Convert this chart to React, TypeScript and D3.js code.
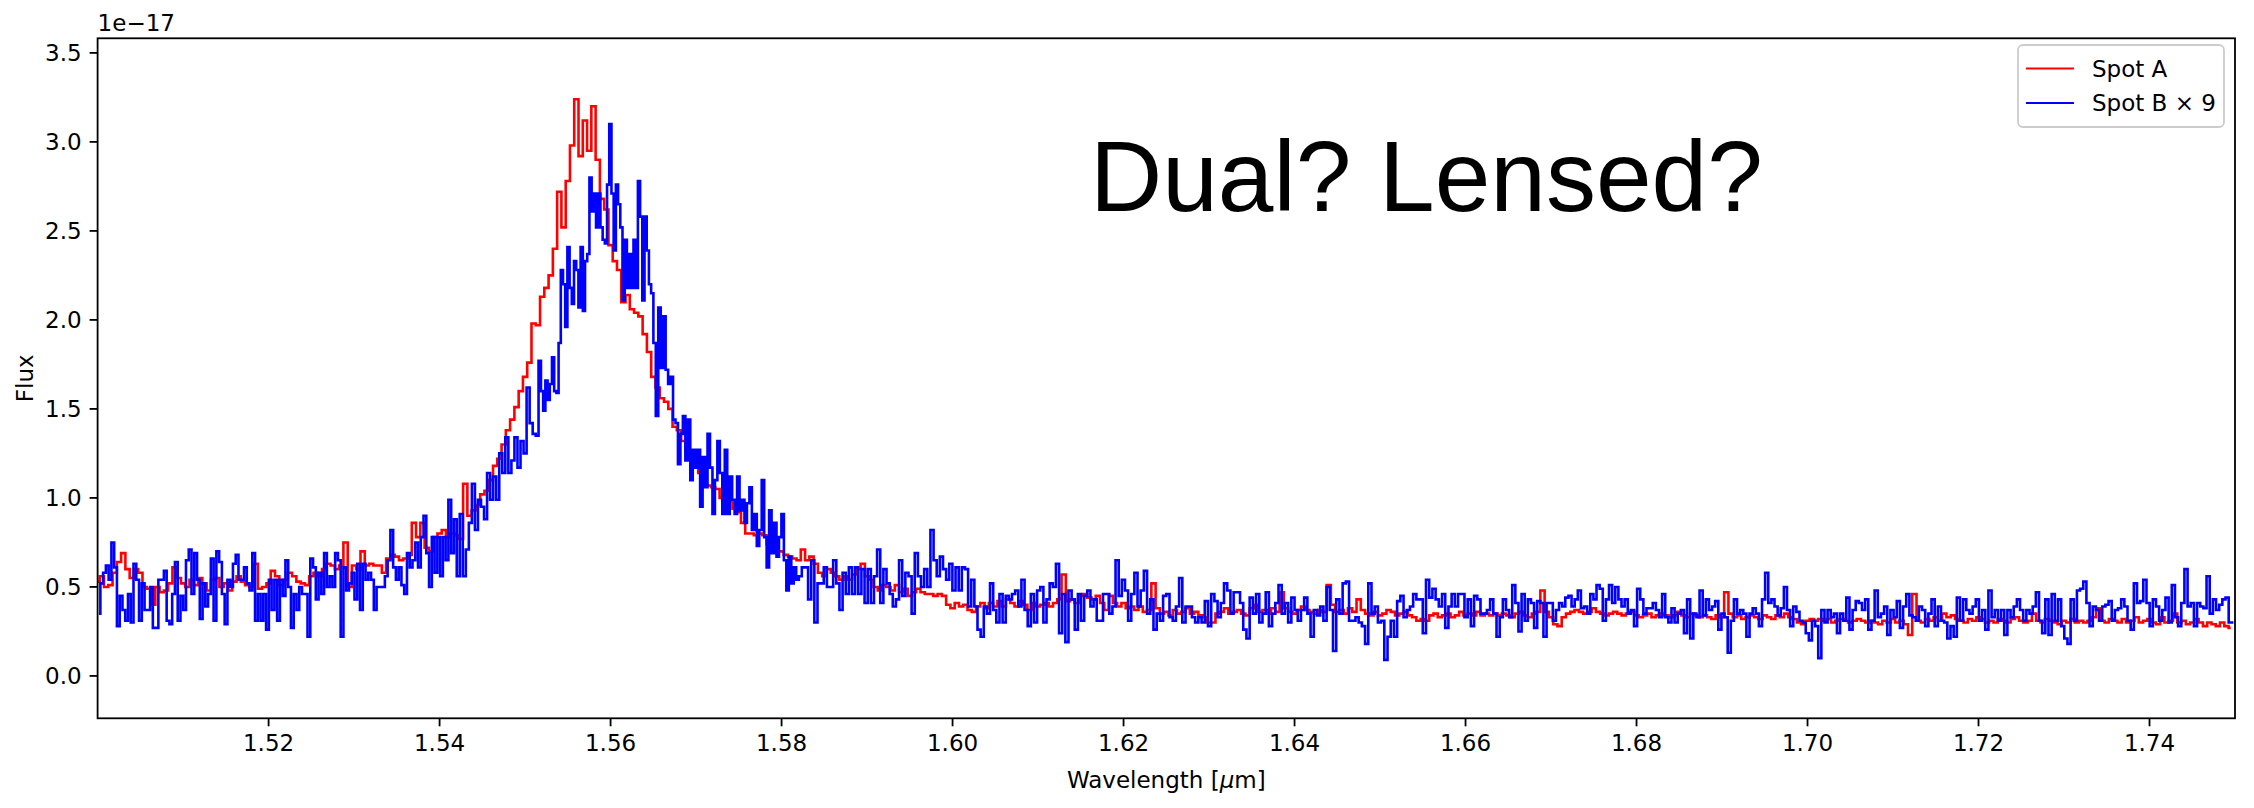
import React from 'react';
import * as d3 from 'd3';

// ---------- data ----------
const xTickValues = [1.52, 1.54, 1.56, 1.58, 1.6, 1.62, 1.64, 1.66, 1.68, 1.7, 1.72, 1.74];
const xTickLabels = ['1.52', '1.54', '1.56', '1.58', '1.60', '1.62', '1.64', '1.66', '1.68', '1.70', '1.72', '1.74'];
const yTickValues = [0, 0.5, 1, 1.5, 2, 2.5, 3, 3.5];
const yTickLabels = ['0.0', '0.5', '1.0', '1.5', '2.0', '2.5', '3.0', '3.5'];
const xDomain = [1.5, 1.75];
const yDomain = [-0.238, 3.582];

// Spot A: flux (1e-17) sampled every 0.0005 µm from 1.5000
const spotAStart = 1.5;
const spotAStep = 0.0005;
const spotA = [
  0.53,0.56,0.50,0.51,0.58,0.64,0.69,0.60,0.55,0.60,
  0.58,0.50,0.49,0.40,0.50,0.47,0.48,0.52,0.61,0.55,
  0.52,0.50,0.54,0.51,0.55,0.52,0.48,0.54,0.55,0.50,
  0.52,0.48,0.53,0.56,0.53,0.51,0.50,0.63,0.49,0.50,
  0.52,0.59,0.56,0.51,0.54,0.58,0.56,0.53,0.52,0.51,
  0.56,0.58,0.56,0.60,0.63,0.62,0.60,0.62,0.75,0.50,
  0.62,0.60,0.70,0.62,0.63,0.62,0.62,0.58,0.66,0.68,
  0.67,0.65,0.66,0.68,0.86,0.78,0.86,0.72,0.70,0.78,
  0.80,0.82,0.78,0.80,
  0.79,0.77,1.08,0.90,0.93,0.96,1.02,1.04,1.10,1.18,
  1.22,1.30,1.38,1.44,1.51,1.60,1.68,1.76,1.98,1.97,
  2.13,2.18,2.25,2.40,2.72,2.52,2.78,2.98,3.24,2.92,
  3.12,2.95,3.20,2.90,2.68,2.62,2.42,2.33,2.28,2.10,
  2.14,2.06,2.04,2.02,1.92,1.82,1.68,1.62,1.56,1.54,
  1.50,1.40,1.38,1.32,1.26,1.24,1.20,1.14,1.12,1.07,
  1.06,1.05,1.00,0.99,0.98,0.94,0.92,0.86,0.80,0.80,
  0.79,0.80,0.79,0.74,0.72,0.70,0.70,0.68,0.67,0.66,
  0.65,0.71,0.65,0.67,0.63,0.58,0.56,0.60,0.58,0.56,
  0.54,0.56,0.54,0.57,0.60,0.63,0.56,0.54,0.50,0.48,
  0.51,0.50,0.48,0.51,0.47,0.49,0.45,0.47,0.49,0.47,
  0.46,0.46,0.45,0.46,0.45,0.40,0.38,0.41,0.39,0.40,
  0.37,0.36,0.39,0.41,0.38,0.41,0.39,0.42,0.39,0.43,
  0.41,0.39,0.42,0.40,0.37,0.41,0.39,0.40,0.41,0.39,
  0.41,0.43,0.57,0.42,0.43,0.41,0.45,0.46,0.44,0.43,
  0.45,0.41,0.37,0.45,0.41,0.39,0.41,0.38,0.39,0.37,
  0.39,
  0.36,0.37,0.52,0.38,0.35,0.36,0.34,0.37,0.35,0.36,
  0.38,0.35,0.36,0.34,0.33,0.30,0.30,0.35,0.36,0.38,
  0.35,0.36,0.37,0.35,0.34,0.38,0.40,0.36,0.37,0.35,
  0.38,0.36,0.47,0.38,0.36,0.35,0.37,0.39,0.37,0.36,
  0.35,0.37,0.36,0.51,0.40,0.36,0.37,0.35,0.38,0.36,
  0.43,0.37,0.35,0.34,0.36,0.34,0.35,0.37,0.36,0.34,
  0.35,0.36,0.34,0.33,0.31,0.32,0.31,0.34,0.35,0.33,
  0.34,0.35,0.33,0.34,0.36,0.34,0.35,0.34,0.36,0.34,
  0.35,0.34,0.35,0.34,
  0.35,0.34,0.33,0.35,0.36,0.34,0.33,0.35,0.36,0.48,
  0.36,0.33,0.29,0.28,0.33,0.35,0.36,0.37,0.36,0.35,
  0.36,0.38,0.36,0.35,0.34,0.35,0.36,0.35,0.34,0.35,
  0.36,0.34,0.33,0.34,0.35,0.33,0.34,0.35,0.34,0.33,
  0.34,0.36,0.34,0.33,0.35,0.34,0.33,0.34,0.33,0.32,
  0.34,0.33,0.47,0.35,0.33,0.34,0.32,0.33,0.34,0.33,
  0.32,0.34,0.33,0.32,0.34,0.33,0.35,0.33,0.32,0.30,
  0.29,0.31,0.32,0.31,0.32,0.31,0.32,0.30,0.31,0.32,
  0.31,0.30,0.31,0.32,
  0.31,0.30,0.31,0.30,0.29,0.31,0.30,0.32,0.30,0.31,
  0.29,0.23,0.46,0.31,0.30,0.32,0.31,0.33,0.31,0.35,
  0.33,0.34,0.32,0.31,0.30,0.32,0.31,0.33,0.32,0.30,
  0.31,0.30,0.32,0.31,0.30,0.32,0.33,0.31,0.30,0.31,
  0.35,0.31,0.30,0.32,0.31,0.30,0.29,0.31,0.30,0.32,
  0.30,0.31,0.30,0.31,0.33,0.38,0.31,0.30,0.32,0.31,
  0.30,0.32,0.30,0.31,0.33,0.30,0.31,0.32,0.30,0.29,
  0.33,0.30,0.31,0.35,0.30,0.31,0.29,0.30,0.32,0.30,
  0.28,0.30,0.29,0.28,0.30,0.28,0.27,
];

// Spot B x 9: values read piecewise; each piece spans [edge_i, edge_i+1]
const spotBEdges = [1.5, 1.542, 1.5516, 1.565, 1.582, 1.622, 1.664, 1.706, 1.75];
const spotB1 = [
  0.35,0.52,0.58,0.62,0.54,0.75,0.61,0.28,0.45,0.37,
  0.31,0.46,0.30,0.63,0.54,0.31,0.52,0.37,0.37,0.50,
  0.27,0.27,0.54,0.54,0.59,0.31,0.29,0.46,0.64,0.31,
  0.45,0.37,0.65,0.71,0.46,0.69,0.54,0.32,0.52,0.39,
  0.46,0.66,0.31,0.70,0.64,0.46,0.29,0.54,0.50,0.63,
  0.68,0.54,0.54,0.61,0.52,0.48,0.69,0.31,0.46,0.31,
  0.46,0.26,0.54,0.37,0.54,0.31,0.54,0.45,0.65,0.50,
  0.27,0.46,0.37,0.50,0.46,0.46,0.22,0.66,0.61,0.43,
  0.58,0.46,0.69,0.50,0.56,0.50,0.69,0.65,0.22,0.61,
  0.48,0.52,0.58,0.43,0.63,0.37,0.63,0.54,0.58,0.54,
  0.37,0.50,0.50,0.50,0.56,0.65,0.82,0.61,0.54,0.61,
  0.51,0.46,0.69,0.61,0.65,0.75,0.61,0.78,0.90,0.69,
  0.50,0.78,0.58,0.78,0.56,0.78,0.65,0.99,0.69,0.88,
];
const spotB2 = [
  0.56,0.91,0.56,0.71,0.86,1.08,0.82,0.99,0.95,0.88,
  1.14,0.99,1.12,0.99,1.25,1.14,1.34,1.14,1.21,1.34,
  1.17,1.32,1.25,1.62,1.42,1.36,1.35,
];
const spotB3 = [
  1.77,1.60,1.49,1.66,1.55,1.64,1.79,1.60,1.59,1.87,
  2.28,2.20,1.96,2.41,2.18,2.09,2.33,2.28,2.07,2.41,
  2.05,2.33,2.37,2.80,2.61,2.71,2.52,2.71,2.52,2.45,
  2.43,2.76,3.10,2.71,2.39,2.76,2.65,2.52,2.11,2.45,
  2.18,2.37,2.18,2.45,2.18,2.78,2.58,2.11,2.58,2.39,
  2.20,2.15,
];
const spotB4 = [
  1.87,1.46,2.07,1.73,2.02,1.72,1.64,1.68,1.44,1.42,
  1.19,1.36,1.46,1.21,1.44,1.10,1.27,1.17,1.27,0.95,
  1.23,1.06,1.36,1.17,0.91,1.10,1.32,1.14,0.91,1.27,
  0.91,1.12,0.99,0.91,1.12,0.93,0.99,0.86,0.97,1.06,
  0.82,0.91,0.73,0.82,1.10,0.78,0.61,0.93,0.69,0.86,
  0.67,0.78,0.91,0.65,0.48,0.67,0.52,0.61,0.54,
];
const spotB5 = [
  0.56,0.61,0.61,0.43,0.65,0.30,0.52,0.52,0.61,0.50,
  0.50,0.65,0.52,0.37,0.58,0.46,0.61,0.46,0.61,0.46,
  0.60,0.41,0.60,0.41,0.56,0.71,0.41,0.60,0.52,0.46,
  0.39,0.43,0.65,0.45,0.58,0.56,0.35,0.69,0.56,0.50,
  0.60,0.50,0.82,0.65,0.56,0.67,0.60,0.54,0.63,0.48,
  0.61,0.48,0.61,0.60,0.39,0.54,0.39,0.26,0.22,0.39,
  0.35,0.52,0.37,0.30,0.46,0.30,0.45,0.43,0.46,0.48,
  0.39,0.54,0.37,0.28,0.46,0.30,0.48,0.50,0.30,0.43,
  0.52,0.50,0.63,0.24,0.46,0.19,0.48,0.43,0.26,0.46,
  0.31,0.45,0.48,0.39,0.43,0.31,0.31,0.46,0.46,0.35,
  0.39,0.65,0.45,0.54,0.48,0.31,0.46,0.58,0.39,
];
const spotB6 = [
  0.48,0.59,0.35,0.43,0.26,0.35,0.31,0.45,0.46,0.33,
  0.31,0.39,0.55,0.30,0.39,0.39,0.33,0.30,0.33,0.30,
  0.42,0.28,0.46,0.42,0.33,0.41,0.52,0.48,0.35,0.47,
  0.47,0.41,0.26,0.21,0.44,0.35,0.46,0.30,0.35,0.47,
  0.28,0.35,0.41,0.51,0.35,0.41,0.30,0.44,0.37,0.31,
  0.37,0.44,0.35,0.22,0.37,0.34,0.39,0.31,0.50,0.37,
  0.14,0.43,0.35,0.52,0.53,0.31,0.31,0.33,0.30,0.28,
  0.18,0.52,0.35,0.39,0.30,0.31,0.09,0.22,0.31,0.22,
  0.42,0.45,0.33,0.37,0.39,0.46,0.43,0.43,0.24,0.54,
  0.44,0.49,0.43,0.39,0.46,0.27,0.39,0.46,0.39,0.46,
  0.46,0.33,0.43,0.28,0.45,0.43,0.35,0.35,0.37,0.43,
  0.35,0.22,
];
const spotB7 = [
  0.33,0.43,0.37,0.33,0.51,0.41,0.25,0.46,0.31,0.43,
  0.41,0.27,0.42,0.41,0.22,0.41,0.41,0.31,0.37,0.41,
  0.39,0.44,0.45,0.39,0.43,0.48,0.38,0.39,0.35,0.46,
  0.43,0.51,0.49,0.31,0.43,0.51,0.41,0.50,0.43,0.39,
  0.43,0.35,0.37,0.28,0.49,0.43,0.35,0.38,0.38,0.41,
  0.37,0.33,0.46,0.33,0.30,0.38,0.30,0.35,0.37,0.24,
  0.43,0.21,0.35,0.33,0.48,0.34,0.43,0.37,0.39,0.42,
  0.26,0.35,0.33,0.13,0.31,0.43,0.35,0.37,0.35,0.22,
  0.35,0.38,0.35,0.28,0.43,0.58,0.41,0.43,0.39,0.34,
  0.38,0.50,0.37,0.28,0.39,0.36,0.31,0.30,0.24,0.20,
  0.31,0.28,0.10,0.37,0.30,0.37,0.33,0.35,0.24,0.35,
  0.31,0.44,0.26,0.37,0.42,
];
const spotB8 = [
  0.41,0.37,0.43,0.26,0.31,0.48,0.33,0.35,0.39,0.23,
  0.37,0.33,0.42,0.27,0.39,0.46,0.34,0.33,0.31,0.39,
  0.37,0.28,0.35,0.43,0.28,0.39,0.31,0.30,0.21,0.28,
  0.22,0.44,0.31,0.43,0.37,0.35,0.39,0.43,0.31,0.37,
  0.26,0.48,0.33,0.37,0.31,0.37,0.23,0.37,0.33,0.39,
  0.43,0.37,0.31,0.37,0.35,0.39,0.47,0.31,0.24,0.43,
  0.23,0.46,0.31,0.43,0.28,0.21,0.18,0.43,0.31,0.48,
  0.49,0.53,0.41,0.28,0.39,0.37,0.31,0.39,0.40,0.42,
  0.31,0.37,0.38,0.43,0.39,0.31,0.26,0.52,0.41,0.42,
  0.54,0.41,0.28,0.43,0.39,0.31,0.37,0.44,0.30,0.51,
  0.33,0.28,0.41,0.60,0.39,0.41,0.28,0.41,0.39,0.38,
  0.56,0.35,0.43,0.37,0.40,0.43,0.44,0.30,0.30,
];
const spotBPieces = [spotB1, spotB2, spotB3, spotB4, spotB5, spotB6, spotB7, spotB8];

const seriesNames = ['Spot A', 'Spot B \u00d7 9'];
const seriesColors = ['#ff0000', '#0000ff'];

// ---------- layout ----------
const W = 2254;
const H = 808;
const PL = 97.6;
const PR = 2235;
const PT = 38.3;
const PB = 718.3;
const FONT = '"DejaVu Sans", Verdana, sans-serif';
const FS = 23;

export default function App() {
  const x = d3.scaleLinear().domain(xDomain).range([PL, PR]);
  const y = d3.scaleLinear().domain(yDomain).range([PB, PT]);

  const spotAPts: [number, number][] = spotA.map((v, i) => [spotAStart + i * spotAStep, v]);
  const spotBPts: [number, number][] = [];
  spotBPieces.forEach((arr, p) => {
    const a = spotBEdges[p];
    const b = spotBEdges[p + 1];
    const w = (b - a) / arr.length;
    arr.forEach((v, k) => spotBPts.push([a + (k + 0.5) * w, v]));
  });

  const line = d3
    .line<[number, number]>()
    .x((d) => x(d[0]))
    .y((d) => y(d[1]))
    .curve(d3.curveStep);

  const tickLen = 8;
  const axisW = 1.8;
  const lineW = 2.6;

  return (
    <svg
      width={W}
      height={H}
      viewBox={`0 0 ${W} ${H}`}
      style={{ position: 'absolute', left: 0, top: 0, background: '#fff' }}
      fontFamily={FONT}
    >
      <rect x={0} y={0} width={W} height={H} fill="#fff" />
      <defs>
        <clipPath id="plotClip">
          <rect x={PL} y={PT} width={PR - PL} height={PB - PT} />
        </clipPath>
      </defs>

      <g clipPath="url(#plotClip)">
        <path d={line(spotAPts) || ''} fill="none" stroke={seriesColors[0]} strokeWidth={lineW} strokeLinejoin="miter" />
        <path d={line(spotBPts) || ''} fill="none" stroke={seriesColors[1]} strokeWidth={lineW} strokeLinejoin="miter" />
      </g>

      {/* frame */}
      <rect x={PL} y={PT} width={PR - PL} height={PB - PT} fill="none" stroke="#000" strokeWidth={axisW} />

      {/* x ticks */}
      {xTickValues.map((t, i) => (
        <g key={'xt' + i}>
          <line x1={x(t)} x2={x(t)} y1={PB} y2={PB + tickLen} stroke="#000" strokeWidth={axisW} />
          <text x={x(t)} y={PB + tickLen + 8 + 17} textAnchor="middle" fontSize={FS} fill="#000">
            {xTickLabels[i]}
          </text>
        </g>
      ))}

      {/* y ticks */}
      {yTickValues.map((t, i) => (
        <g key={'yt' + i}>
          <line x1={PL - tickLen} x2={PL} y1={y(t)} y2={y(t)} stroke="#000" strokeWidth={axisW} />
          <text x={PL - tickLen - 8} y={y(t) + 8.4} textAnchor="end" fontSize={FS} fill="#000">
            {yTickLabels[i]}
          </text>
        </g>
      ))}

      {/* offset text */}
      <text x={PL} y={31} fontSize={FS} fill="#000">1e{'\u2212'}17</text>

      {/* axis labels */}
      <text x={(PL + PR) / 2} y={788} textAnchor="middle" fontSize={FS} fill="#000">
        Wavelength [<tspan fontStyle="italic">{'\u03bc'}</tspan>m]
      </text>
      <text transform={`translate(33, ${(PT + PB) / 2}) rotate(-90)`} textAnchor="middle" fontSize={FS} fill="#000">
        Flux
      </text>

      {/* annotation */}
      <text x={1090} y={211} fontSize={100} fontFamily='"Liberation Sans", Arial, Helvetica, sans-serif' fill="#000">
        Dual? Lensed?
      </text>

      {/* legend */}
      <g>
        <rect x={2018} y={45} width={206} height={82} rx={5} ry={5} fill="#fff" fillOpacity={0.8} stroke="#cccccc" strokeWidth={1.8} />
        {seriesNames.map((name, i) => (
          <g key={'lg' + i}>
            <line x1={2026} x2={2074} y1={68.5 + i * 34.5} y2={68.5 + i * 34.5} stroke={seriesColors[i]} strokeWidth={2.2} />
            <text x={2092} y={76.8 + i * 34.5} fontSize={FS} fill="#000">
              {name}
            </text>
          </g>
        ))}
      </g>
    </svg>
  );
}
